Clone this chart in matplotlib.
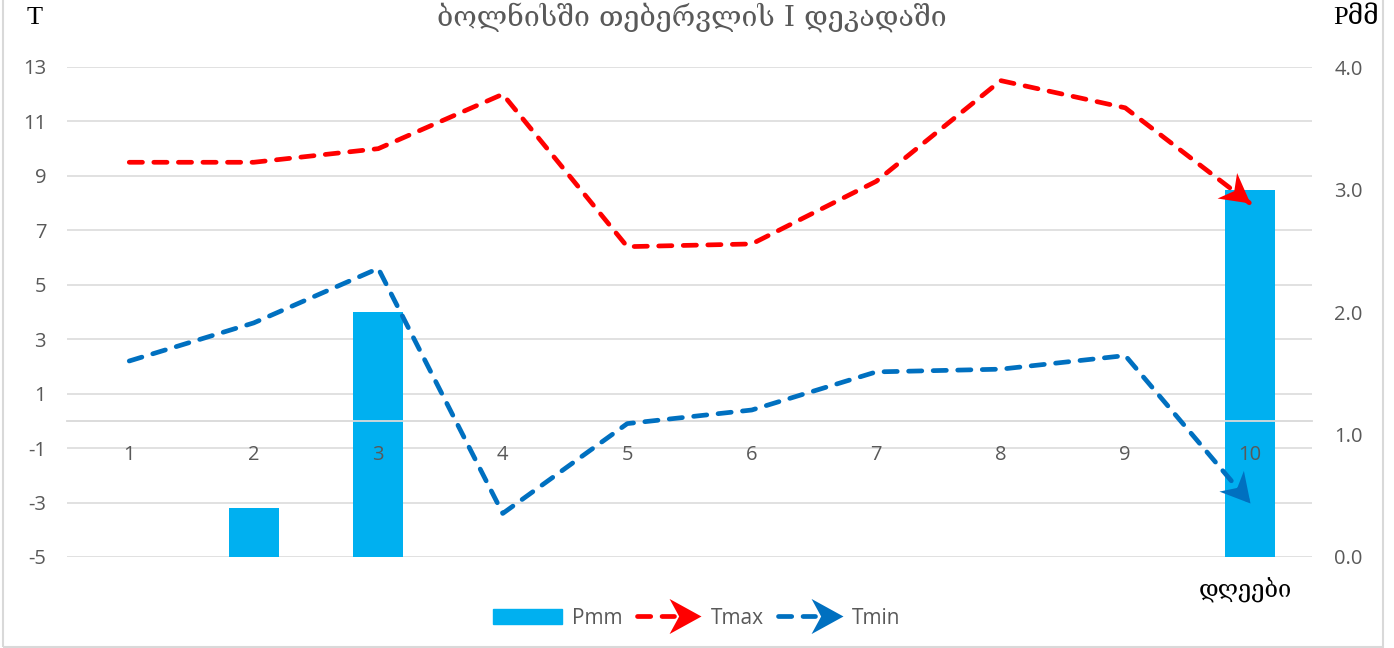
import numpy as np
import matplotlib
matplotlib.use('Agg')
import matplotlib.pyplot as plt
from matplotlib.path import Path
from matplotlib.patches import Patch, Rectangle
from matplotlib.lines import Line2D
from matplotlib.markers import MarkerStyle
from matplotlib.transforms import Affine2D
from matplotlib.legend_handler import HandlerBase

plt.rcParams['axes.unicode_minus'] = False

# data
days = [1, 2, 3, 4, 5, 6, 7, 8, 9, 10]
p_mm = [0.0, 0.4, 2.0, 0.0, 0.0, 0.0, 0.0, 0.0, 0.0, 3.0]
t_max = [9.5, 9.5, 10.0, 12.0, 6.4, 6.5, 8.8, 12.5, 11.5, 8.0]
t_min = [2.2, 3.6, 5.6, -3.4, -0.1, 0.4, 1.8, 1.9, 2.4, -3.0]
t_ticks = [-5, -3, -1, 1, 3, 5, 7, 9, 11, 13]
p_ticks = [0, 1, 2, 3, 4]

title = 'ბოლნისში თებერვლის I დეკადაში'
c_bar = '#00B0F0'
c_max = '#FF0000'
c_min = '#0070C0'
c_grid = '#D9D9D9'
c_txt = '#595959'
tick_font = 'Open Sans'
geo_fonts = ['DejaVu Serif', 'DejaVu Sans']
fs = 14.5
line_w = 3.4
dash = (2.8, 2.4)

W, H = 1394, 648
fig = plt.figure(figsize=(W / 100, H / 100), dpi=100)
rect = [67 / W, 1 - 557 / H, (1312 - 67) / W, (557 - 67) / H]

# temperature axis: grid + left labels
ax = fig.add_axes(rect)
ax.set_xlim(0.5, 10.5)
ax.set_ylim(-5, 13)
ax.set_yticks(t_ticks)
ax.grid(axis='y', color=c_grid, lw=1.1)
ax.set_axisbelow(True)
for s in ax.spines.values():
    s.set_visible(False)
ax.tick_params(axis='y', length=0, pad=15, labelsize=fs, labelcolor=c_txt)
ax.tick_params(axis='x', length=0, labelbottom=False)
for lab in ax.get_yticklabels():
    lab.set_fontfamily(tick_font)

# precipitation axis (right)
ax_p = ax.twinx()
ax_p.set_ylim(0, 4)
ax_p.set_yticks(p_ticks)
ax_p.set_yticklabels(['%.1f' % v for v in p_ticks], family=tick_font)
ax_p.tick_params(axis='y', length=0, pad=16, labelsize=fs, labelcolor=c_txt)
for s in ax_p.spines.values():
    s.set_visible(False)
bars = ax_p.bar(days, p_mm, width=0.4, color=c_bar, zorder=2)

# overlay axis for temperature lines
ax_t = fig.add_axes(rect, sharex=ax, sharey=ax)
ax_t.patch.set_visible(False)
for k in ('top', 'left', 'right'):
    ax_t.spines[k].set_visible(False)
ax_t.spines['bottom'].set_position(('data', 0))
ax_t.spines['bottom'].set_color(c_grid)
ax_t.spines['bottom'].set_linewidth(1.3)
ax_t.set_xticks(days)
ax_t.set_xticklabels([str(d) for d in days], family=tick_font)
ax_t.tick_params(axis='x', length=0, pad=17, labelsize=fs, labelcolor=c_txt)
ax_t.tick_params(axis='y', left=False, labelleft=False)

arrow_path = Path([(0, 0), (-1, 0.55), (-0.7, 0), (-1, -0.55), (0, 0)],
                  [Path.MOVETO, Path.LINETO, Path.LINETO, Path.LINETO, Path.CLOSEPOLY])

for ys, col in ((t_max, c_max), (t_min, c_min)):
    ax_t.plot(days, ys, color=col, lw=line_w, dashes=dash, dash_capstyle='round',
              dash_joinstyle='round', zorder=3)
    # arrow head along the last segment, angle taken in screen space
    pts = ax_t.transData.transform(np.column_stack([days[-2:], ys[-2:]]))
    d = pts[1] - pts[0]
    ang = np.degrees(np.arctan2(d[1], d[0]))
    mk = MarkerStyle(arrow_path, transform=Affine2D().rotate_deg(ang))
    ax_t.plot(days[-1], ys[-1], marker=mk, markersize=42, color=col,
              mew=0, ls='none', zorder=4)


class ArrowLineHandler(HandlerBase):
    def create_artists(self, legend, orig_handle, xdescent, ydescent,
                       width, height, fontsize, trans):
        y = height / 2 - ydescent
        col = orig_handle.get_color()
        x0, x1 = -xdescent, width - xdescent
        ln = Line2D([x0 + 3, x1 - 0.4 * width], [y, y], color=col, lw=line_w,
                    dashes=dash, dash_capstyle='round')
        hd = Line2D([x1], [y], marker=MarkerStyle(arrow_path), markersize=46,
                    color=col, mew=0, ls='none')
        ln.set_transform(trans)
        hd.set_transform(trans)
        return [ln, hd]


h_max = Line2D([], [], color=c_max)
h_min = Line2D([], [], color=c_min)
leg = fig.legend([Patch(color=c_bar), h_max, h_min], ['Pmm', 'Tmax', 'Tmin'],
                 loc='center', bbox_to_anchor=(0.5, 1 - 618 / H), ncol=3,
                 frameon=False, handlelength=3.3, handletextpad=0.45,
                 columnspacing=0.5, prop={'family': tick_font, 'size': 15},
                 handler_map={Line2D: ArrowLineHandler()})
for t in leg.get_texts():
    t.set_color(c_txt)

fig.text(692 / W, 1 - 17 / H, title, ha='center', va='center', color=c_txt,
         fontsize=20.5, family=geo_fonts)
fig.text(35 / W, 1 - 18 / H, 'T', ha='center', va='center', color='black',
         fontsize=19, family=['Liberation Serif'] + geo_fonts)
fig.text(1356 / W, 1 - 18 / H, 'Pმმ', ha='center', va='center', color='black',
         fontsize=19, family=['Liberation Serif'] + geo_fonts)
fig.text(1245 / W, 1 - 590 / H, 'დღეები', ha='center', va='center', color='black',
         fontsize=17, family=geo_fonts)

fig.add_artist(Rectangle((3 / W, 1.5 / H), 1380 / W, 1.2, transform=fig.transFigure,
                         fill=False, edgecolor=c_grid, lw=1.5))

fig.savefig('out.png', dpi=100)
